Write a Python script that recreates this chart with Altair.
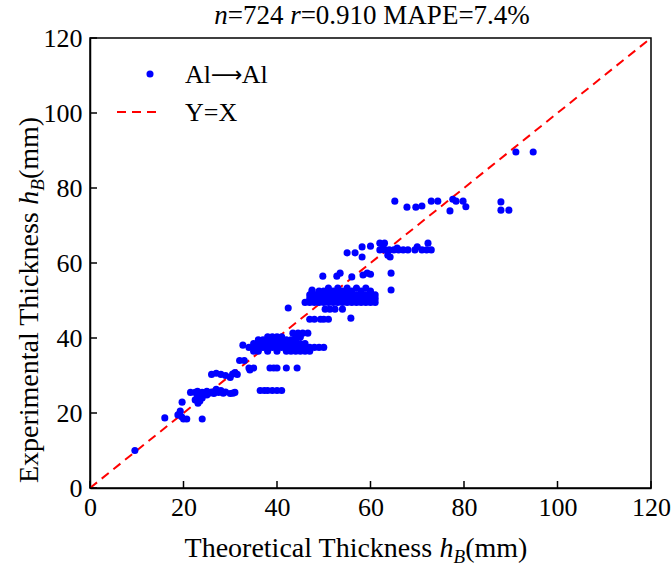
import altair as alt
import pandas as pd

FONT = "Liberation Serif"

# ---------------- data ----------------
x_theory = [
    9.6,
    16, 18.8, 19.6, 20, 20.7, 19.3, 24,
    19.7, 23.1, 23.5, 22.5, 23, 24, 25,
    21.5, 22.5, 23, 24, 24.5, 25, 25.5, 26, 26.5, 27, 27.5, 28, 28.5, 29, 30, 30.6, 31,
    26, 27, 28, 29, 30, 30.5, 31, 31.5, 34.2,
    32, 33,
    34, 35, 38.5, 39.3, 40, 42, 44.3,
    36.4, 37.3, 38, 39, 40, 41,
    32.7,
    35, 36, 38, 40, 42, 43, 44, 45, 46, 47,
    34, 35, 36, 37, 38, 39, 40, 41, 42, 43, 44, 45, 46, 47, 48, 49, 50,
    35, 36, 37, 38, 39, 40, 41, 42, 43, 44, 45, 46,
    36, 37, 38, 39, 40, 41, 42, 43, 44,
    38, 39, 40, 41, 44, 45,
    43.4, 44.5, 45.5, 46.6,
    42.4,
    47, 48, 49.3, 50, 51, 55.8,
    50.3, 51.3, 52.4, 54,
    46, 47, 48, 49, 50, 51, 52, 53, 54, 55, 56, 57, 58, 59, 60, 61,
    47, 48, 49, 50, 51, 52, 53, 54, 55, 56, 57, 58, 59, 60, 61,
    47, 48, 49, 50, 51, 52, 53, 54, 55, 56, 57, 58, 59, 60, 61,
    47.5, 49, 50, 51, 52, 53, 54, 55, 56, 58, 60,
    51, 53, 55, 57, 59,
    64.4, 47.5,
    49.8, 52.8, 53.5, 56, 58.4, 59.3, 60, 64.4,
    55, 56.7, 58.2, 60, 58.2, 62.7, 63.7, 64.2, 65.7, 62, 63, 70, 72.3,
    62, 63, 64, 65, 66, 67, 68, 69.5, 71, 72, 73,
    65.2, 67.8, 69.7, 71, 73, 74.4, 77, 77.6, 78.3, 79.8, 80.4,
    87.9, 87.9, 89.6, 91.1, 94.8,
]
y_experimental = [
    10,
    18.7, 19.5, 19, 18.4, 18.4, 20.5, 18.4,
    22.9, 22.6, 23.2, 23.5, 24.5, 24, 24.8,
    25.5, 25.5, 25.8, 25.5, 25.2, 25.8, 25.3, 25.6, 25.2, 26.3, 25.5, 26, 25.3, 25.6, 25.2, 25.3, 25.5,
    30.3, 30.6, 30.3, 30, 29.5, 30.4, 30.8, 30.3, 31.5,
    34, 34,
    32, 32, 32, 32, 32, 32, 32,
    26, 26, 26, 26, 26, 26,
    38.1,
    36.5, 36.5, 36.5, 36.5, 36.5, 36.5, 36.5, 36.5, 36.5, 36.5,
    37.5, 37.5, 37.5, 37.5, 37.5, 37.5, 37.5, 37.5, 37.5, 37.5, 37.5, 37.5, 37.5, 37.5, 37.5, 37.5, 37.5,
    38.5, 38.5, 38.5, 38.5, 38.5, 38.5, 38.5, 38.5, 38.5, 38.5, 38.5, 38.5,
    39.5, 39.5, 39.5, 39.5, 39.5, 39.5, 39.5, 39.5, 39.5,
    40.3, 40.3, 40.3, 40.3, 40.3, 40.3,
    41.3, 41.3, 41.3, 41.3,
    48,
    45, 45, 45, 45, 45, 45.3,
    47.7, 47.7, 47.7, 47.7,
    49.5, 49.5, 49.5, 49.5, 49.5, 49.5, 49.5, 49.5, 49.5, 49.5, 49.5, 49.5, 49.5, 49.5, 49.5, 49.5,
    50.5, 50.5, 50.5, 50.5, 50.5, 50.5, 50.5, 50.5, 50.5, 50.5, 50.5, 50.5, 50.5, 50.5, 50.5,
    51.5, 51.5, 51.5, 51.5, 51.5, 51.5, 51.5, 51.5, 51.5, 51.5, 51.5, 51.5, 51.5, 51.5, 51.5,
    52.5, 52.5, 52.5, 52.5, 52.5, 52.5, 52.5, 52.5, 52.5, 52.5, 52.5,
    53.3, 53.3, 53.3, 53.3, 53.3,
    52.8, 52.8,
    56.5, 56.5, 57.3, 56.3, 56.8, 57.3, 57, 57.3,
    62.7, 62.7, 64.3, 64.5, 61.6, 64.3, 62.1, 61.6, 64, 65.3, 65.3, 64.3, 65.3,
    63.5, 63.5, 63.5, 63.5, 63.5, 63.5, 63.5, 63.5, 63.5, 63.5, 63.5,
    76.5, 74.9, 74.9, 75.2, 76.5, 76.5, 73.9, 77, 76.5, 76.5, 75,
    76.3, 74.1, 74.1, 89.6, 89.6,
]
diag = [0, 120]
tick_values = [0, 20, 40, 60, 80, 100, 120]
legend_labels = ["Al→Al", "Y=X"]

W, H = 561, 450
BLUE = "#0000ff"
RED = "#ff0000"
DASH = [9, 6]

# approximate Times / Liberation Serif advance widths (em)
REG = {" ": .25, "(": .333, ")": .333, "=": .564, ".": .25, "%": .833, "A": .722, "B": .667,
       "E": .611, "M": .889, "P": .556, "T": .611, "X": .722, "Y": .722, "a": .444, "c": .444,
       "e": .444, "h": .5, "i": .278, "k": .5, "l": .278, "m": .778, "n": .5, "o": .5, "p": .5,
       "r": .333, "s": .389, "t": .278, "x": .5, "→": .838, "⟶": 1.4}
ITA = {"h": .5, "n": .5, "r": .389, "B": .611}


def width(txt, size, italic):
    tab = ITA if italic else REG
    return sum(tab.get(c, REG.get(c, .5)) for c in txt) * size


one = pd.DataFrame({"k": [0]})


def rich(pieces, x, y, angle=0, center=True):
    """pieces: (text, italic, size, dy[, font]). Returns list of text layers."""
    total = sum(width(p[0], p[2], p[1]) for p in pieces)
    off = -total / 2 if center else 0
    layers = []
    for p in pieces:
        t, it, s, dy = p[:4]
        font = p[4] if len(p) > 4 else FONT
        props = dict(text=t.strip(), align="left", baseline="alphabetic",
                     font=font, fontSize=s, color="black", dx=off, dy=dy)
        if it:
            props["fontStyle"] = "italic"
        if angle:
            props["angle"] = angle
        layers.append(alt.Chart(one).mark_text(**props).encode(x=alt.value(x), y=alt.value(y)))
        off += width(t, s, it)
    return layers


df = pd.DataFrame({"x": x_theory, "y": y_experimental})
xs = alt.Scale(domain=[0, 120], nice=False, zero=False)
ys = alt.Scale(domain=[0, 120], nice=False, zero=False)

axis_common = dict(values=tick_values, ticks=False, grid=False, title=None, labelFontSize=26,
                   labelFont=FONT, labelColor="black", domainColor="black", domainWidth=1.5,
                   labelFlush=False, labelOverlap=False)

points = alt.Chart(df).mark_circle(size=50, color=BLUE, opacity=1).encode(
    x=alt.X("x:Q", scale=xs, axis=alt.Axis(labelPadding=6, **axis_common)),
    y=alt.Y("y:Q", scale=ys, axis=alt.Axis(labelPadding=8, **axis_common)),
)

line = alt.Chart(pd.DataFrame({"x": diag, "y": diag})).mark_line(
    color=RED, strokeDash=DASH, strokeWidth=2, clip=True
).encode(x=alt.X("x:Q", scale=xs), y=alt.Y("y:Q", scale=ys))

tdf = pd.DataFrame({"t": tick_values})
xticks = alt.Chart(tdf).mark_rule(color="black", strokeWidth=1.5).encode(
    x=alt.X("t:Q", scale=xs), y=alt.value(H), y2=alt.value(H - 7))
yticks = alt.Chart(tdf).mark_rule(color="black", strokeWidth=1.5).encode(
    y=alt.Y("t:Q", scale=ys), x=alt.value(0), x2=alt.value(7))

# legend
leg_pt = alt.Chart(one).mark_circle(size=50, color=BLUE, opacity=1).encode(
    x=alt.value(60), y=alt.value(36))
leg_ln = alt.Chart(one).mark_rule(color=RED, strokeDash=DASH, strokeWidth=2).encode(
    x=alt.value(27), x2=alt.value(72), y=alt.value(74))
leg_t1 = rich([("Al", False, 26, 0), ("⟶", False, 22, -1, "DejaVu Sans"), ("Al", False, 26, 0)],
              x=95, y=45, center=False)
leg_t2 = rich([(legend_labels[1], False, 26, 0)], x=95, y=83, center=False)

F = 27
title_layers = rich([("n", True, F, 0), ("=724 ", False, F, 0), ("r", True, F, 0),
                     ("=0.910 MAPE=7.4%", False, F, 0)], x=282, y=-14)
xtitle_layers = rich([("Theoretical Thickness ", False, 28, 0), ("h", True, 28, 0),
                      ("B", True, 19, 6), ("(mm)", False, 28, 0)], x=266, y=519)
ytitle_layers = rich([("Experimental Thickness ", False, 28, 0), ("h", True, 28, 0),
                      ("B", True, 19, 6), ("(mm)", False, 28, 0)], x=-52, y=262, angle=270)

chart = alt.layer(
    line, points, xticks, yticks, leg_pt, leg_ln, *leg_t1, *leg_t2,
    *title_layers, *xtitle_layers, *ytitle_layers
).properties(
    width=W, height=H,
    autosize=alt.AutoSizeParams(type="none"),
    padding={"left": 90, "top": 38, "right": 21, "bottom": 80},
).configure_view(stroke="black", strokeWidth=1.5)

chart.save("out.html", embed_options={"renderer": "svg", "actions": False})
